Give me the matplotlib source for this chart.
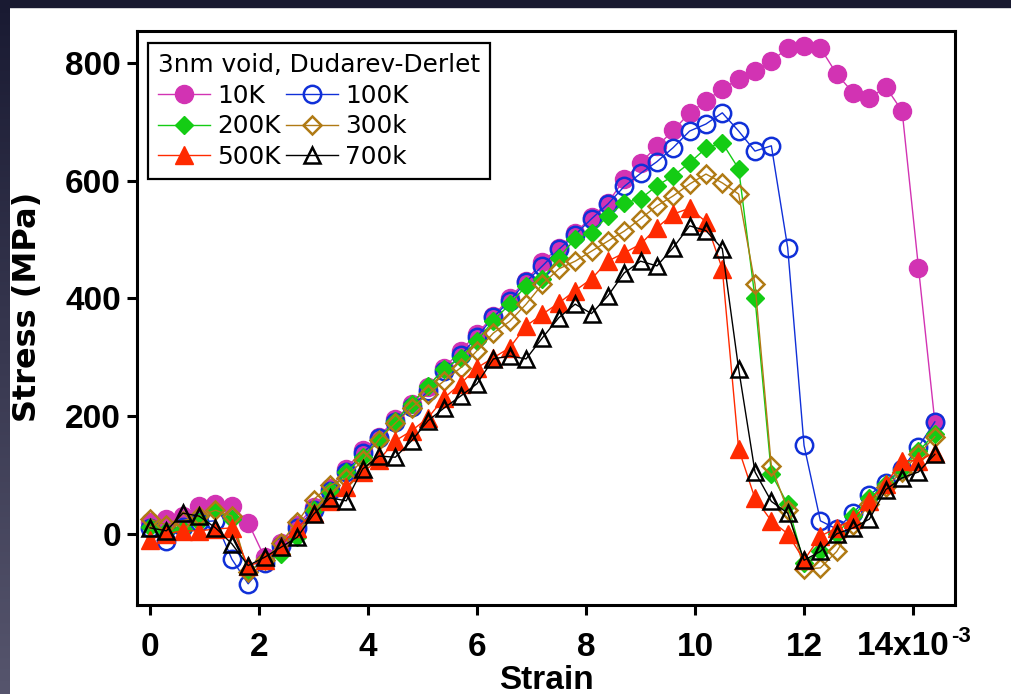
import numpy as np
import matplotlib.pyplot as plt
from matplotlib.patches import Rectangle
from matplotlib.colors import LinearSegmentedColormap

# strain (x10^-3), one marker every 0.3
strain = [0.0, 0.3, 0.6, 0.9, 1.2, 1.5, 1.8, 2.1, 2.4, 2.7,
          3.0, 3.3, 3.6, 3.9, 4.2, 4.5, 4.8, 5.1, 5.4, 5.7,
          6.0, 6.3, 6.6, 6.9, 7.2, 7.5, 7.8, 8.1, 8.4, 8.7,
          9.0, 9.3, 9.6, 9.9, 10.2, 10.5, 10.8, 11.1, 11.4, 11.7,
          12.0, 12.3, 12.6, 12.9, 13.2, 13.5, 13.8, 14.1, 14.4]

# stress (MPa) per temperature
s_10K = [20, 25, 30, 48, 51, 48, 19, -40, -15, 15,
         45, 78, 110, 143, 165, 195, 220, 250, 282, 311,
         340, 370, 401, 430, 462, 486, 511, 538, 562, 602,
         630, 658, 685, 715, 735, 756, 772, 786, 803, 825,
         828, 825, 781, 749, 740, 759, 718, 452, 190]
s_100K = [10, -12, 12, 20, 22, -43, -85, -50, -20, 10,
          40, 72, 105, 137, 163, 190, 215, 242, 276, 303,
          335, 368, 396, 428, 455, 483, 508, 535, 560, 590,
          612, 632, 656, 684, 696, 715, 684, 650, 659, 486,
          150, 22, 8, 35, 66, 87, 110, 148, 190]
s_200K = [12, 5, 8, 20, 40, 25, -65, -45, -34, -5,
          40, 72, 105, 130, 160, 192, 221, 251, 280, 299,
          328, 362, 390, 421, 433, 469, 501, 511, 540, 562,
          569, 591, 608, 630, 655, 664, 620, 400, 102, 50,
          -50, -30, 0, 30, 60, 85, 110, 140, 170]
s_300K = [25, 15, 22, 30, 40, 30, -65, -45, -15, 20,
          58, 82, 95, 125, 160, 188, 214, 238, 260, 282,
          311, 341, 361, 390, 424, 450, 463, 480, 497, 514,
          535, 557, 574, 594, 611, 596, 577, 424, 115, 40,
          -60, -58, -30, 15, 50, 80, 105, 135, 165]
s_500K = [-10, 0, 5, 5, 8, 10, -55, -45, -20, 10,
          35, 55, 80, 105, 125, 158, 175, 197, 231, 255,
          282, 299, 316, 353, 373, 392, 413, 433, 463, 477,
          492, 520, 543, 553, 530, 450, 144, 60, 22, 0,
          -45, -4, 10, 25, 55, 85, 124, 124, 138]
s_700K = [10, 5, 35, 30, 10, -17, -54, -40, -23, -6,
          33, 61, 56, 110, 132, 130, 158, 192, 214, 234,
          255, 297, 302, 297, 333, 367, 390, 374, 404, 443,
          463, 455, 486, 523, 515, 484, 280, 105, 55, 35,
          -45, -30, 0, 10, 25, 75, 95, 105, 135]

labels = ['10K', '100K', '200K', '300k', '500K', '700k']
colors = ['#d233b3', '#1030d8', '#14cc14', '#b07a14', '#ff2a00', '#000000']
markers = ['o', 'o', 'D', 'D', '^', '^']
filled = [True, False, True, False, True, False]
sizes = [13, 12.5, 9.5, 9, 13, 12]
data = [s_10K, s_100K, s_200K, s_300K, s_500K, s_700K]

xticks = [0, 2, 4, 6, 8, 10, 12, 14]
xticklabels = ['0', '2', '4', '6', '8', '10', '12', '']
yticks = [0, 200, 400, 600, 800]

fig = plt.figure(figsize=(10.12, 6.94), dpi=100, facecolor='white')

# dark slide border on the left and top
edge = fig.add_axes([0, 0, 10 / 1012, 1])
grad = np.linspace(0, 1, 256).reshape(-1, 1)
edge.imshow(grad, aspect='auto', origin='upper',
            cmap=LinearSegmentedColormap.from_list('edge', ['#191a32', '#56556d']))
edge.axis('off')
fig.add_artist(Rectangle((0, 1 - 7 / 694), 1, 7 / 694, transform=fig.transFigure,
                         color='#191a30', zorder=0))

ax = fig.add_axes([137 / 1012, 1 - 605 / 694, 818 / 1012, 574 / 694])

lines = []
for lab, vals, c, m, f, ms in zip(labels, data, colors, markers, filled, sizes):
    ln, = ax.plot(strain, vals, color=c, lw=1.0, marker=m, ms=ms,
                  mfc=c if f else 'none', mec=c, mew=1.0 if f else 1.8, label=lab)
    lines.append(ln)

ax.set_xlim(-0.24, 14.77)
ax.set_ylim(-121, 854)
ax.set_xticks(xticks)
ax.set_xticklabels(xticklabels)
ax.set_yticks(yticks)

ax.tick_params(axis='both', direction='out', length=7.5, width=2.2, labelsize=24,
               top=False, right=False)
ax.tick_params(axis='x', pad=12)
ax.tick_params(axis='y', pad=4)
for t in ax.get_xticklabels() + ax.get_yticklabels():
    t.set_fontfamily('Liberation Sans')
    t.set_fontweight('bold')
for sp in ax.spines.values():
    sp.set_linewidth(2.2)

# last strain label carries the x10^-3 multiplier
fig.text(950 / 1012, 1 - 655 / 694, '14x10', ha='right', va='baseline',
         fontsize=24, fontweight='bold', family='Liberation Sans')
fig.text(951 / 1012, 1 - 642 / 694, '-3', ha='left', va='baseline',
         fontsize=16, fontweight='bold', family='Liberation Sans')

order = [0, 2, 4, 1, 3, 5]
leg = ax.legend([lines[i] for i in order], [labels[i] for i in order], ncol=2,
                loc='upper left', bbox_to_anchor=(11 / 818, (605 - 43) / 574),
                borderaxespad=0, title='3nm void, Dudarev-Derlet',
                prop={'family': 'DejaVu Sans', 'size': 17.8},
                title_fontproperties={'family': 'DejaVu Sans', 'size': 17.8},
                alignment='left', frameon=True, fancybox=False, edgecolor='black',
                framealpha=1, handlelength=2.1, handletextpad=0.3,
                columnspacing=0.2, labelspacing=0.27, borderpad=0.4, numpoints=1)
leg.get_frame().set_linewidth(1.6)

fig.text(546 / 1012, 1 - 689 / 694, 'Strain', ha='center', va='baseline',
         fontsize=24, fontweight='bold', family='Liberation Sans')
fig.text(36 / 1012, 1 - 307 / 694, 'Stress (MPa)', rotation=90,
         rotation_mode='anchor', ha='center', va='baseline',
         fontsize=23, fontweight='bold', family='DejaVu Sans')

fig.savefig('out.png', dpi=100)
